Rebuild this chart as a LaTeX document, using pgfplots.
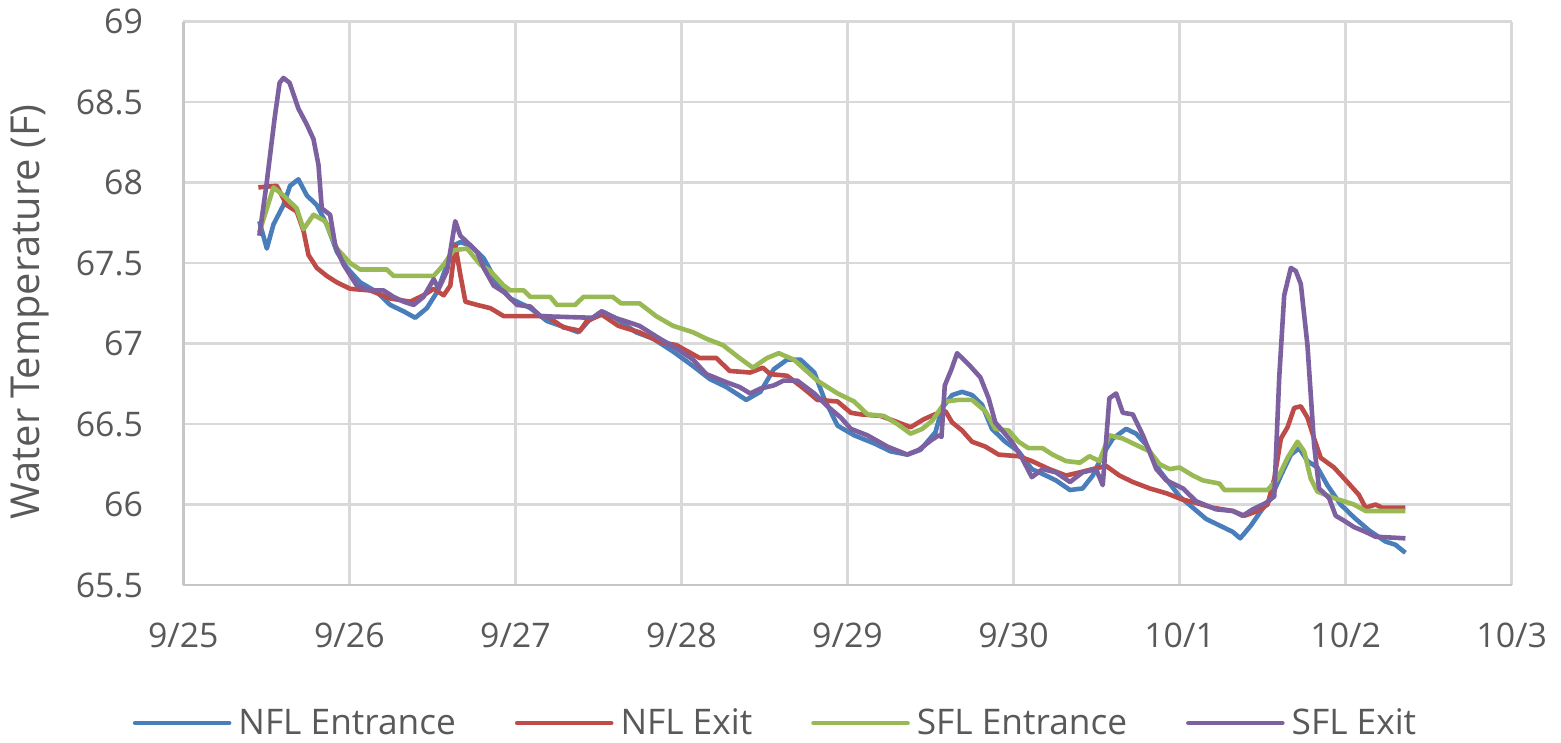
\documentclass[border=0pt]{standalone}
\usepackage{fontspec}
\setmainfont{Open Sans}
\usepackage{pgfplots}
\pgfplotsset{compat=1.18}
\definecolor{cBlue}{HTML}{4A7EBB}
\definecolor{cRed}{HTML}{BE4B48}
\definecolor{cGreen}{HTML}{98B954}
\definecolor{cPurple}{HTML}{7D60A0}
\definecolor{txtgray}{HTML}{595959}
\definecolor{gridgray}{HTML}{D9D9D9}
\definecolor{axgray}{HTML}{C6C6C6}
\begin{document}
\begin{tikzpicture}
\path[use as bounding box] (-91.65bp,-79bp) rectangle (688.85bp,292.5bp);
\begin{axis}[
  at={(0,0)}, anchor=south west,
  scale only axis, width=664.2bp, height=281.7bp,
  xmin=0, xmax=8, ymin=65.5, ymax=69,
  xtick={0,1,2,3,4,5,6,7,8},
  xticklabels={9/25,9/26,9/27,9/28,9/29,9/30,10/1,10/2,10/3},
  ytick={65.5,66,66.5,67,67.5,68,68.5,69},
  /pgf/number format/assume math mode=true,
  grid=major,
  major grid style={gridgray, line width=1.3bp},
  axis x line*=bottom, axis y line*=left,
  axis line style={axgray, line width=1.3bp, -},
  major tick length=0pt,
  tick label style={font=\fontsize{17}{20}\selectfont, text=txtgray},
  yticklabel style={anchor=east, inner sep=0pt, xshift=-20bp},
  xticklabel style={anchor=north, inner sep=0pt, yshift=-19bp},
  ylabel={Water Temperature (F)},
  every axis y label/.style={at={(axis description cs:-0.1154,0.4846)}, rotate=90, anchor=center, font=\fontsize{20}{24}\selectfont, text=txtgray},
  legend columns=4,
  legend style={at={(axis description cs:0.4477,-0.245)}, anchor=center, draw=none, fill=none,
    font=\fontsize{17.7}{20}\selectfont, text=txtgray,
    nodes={inner sep=3.5bp},
    /tikz/every even column/.append style={column sep=26bp}},
  legend cell align=left,
  legend image code/.code={\draw[#1, line cap=round] (0bp,0bp) -- (47bp,0bp);},
  every axis plot/.append style={line width=2.3bp, line join=round, no markers},
]
\addplot[cBlue] coordinates {
(0.458,67.76) (0.503,67.59) (0.543,67.74) (0.603,67.86) (0.643,67.98) (0.693,68.02) (0.744,67.92) (0.804,67.86) (0.864,67.74) (0.925,67.57) (0.985,67.47) (1.065,67.38) (1.166,67.32) (1.246,67.24) (1.327,67.20) (1.397,67.16) (1.467,67.22) (1.528,67.32) (1.588,67.49) (1.628,67.61) (1.668,67.63) (1.729,67.61) (1.809,67.53) (1.889,67.38) (1.970,67.28) (2.09,67.22) (2.19,67.14) (2.30,67.10) (2.38,67.07) (2.44,67.14) (2.52,67.20) (2.60,67.16) (2.727,67.07) (2.83,67.03) (2.95,66.95) (3.07,66.86) (3.17,66.78) (3.27,66.73) (3.39,66.65) (3.475,66.70) (3.556,66.84) (3.636,66.90) (3.717,66.90) (3.80,66.82) (3.859,66.66) (3.94,66.49) (4.04,66.43) (4.16,66.38) (4.26,66.33) (4.36,66.31) (4.44,66.34) (4.53,66.45) (4.57,66.60) (4.63,66.68) (4.69,66.70) (4.75,66.68) (4.81,66.62) (4.87,66.47) (4.95,66.39) (5.03,66.33) (5.11,66.22) (5.195,66.18) (5.255,66.15) (5.34,66.09) (5.416,66.10) (5.477,66.18) (5.537,66.31) (5.598,66.41) (5.678,66.47) (5.738,66.44) (5.80,66.37) (5.88,66.21) (6.0,66.05) (6.08,65.98) (6.16,65.91) (6.24,65.87) (6.32,65.83) (6.365,65.79) (6.43,65.87) (6.49,65.96) (6.55,66.04) (6.61,66.18) (6.67,66.31) (6.72,66.35) (6.77,66.27) (6.83,66.23) (6.89,66.12) (6.97,66.00) (7.05,65.92) (7.14,65.84) (7.24,65.77) (7.30,65.75) (7.36,65.70)
};
\addlegendentry{NFL Entrance}
\addplot[cRed] coordinates {
(0.452,67.97) (0.563,67.98) (0.593,67.92) (0.623,67.86) (0.683,67.82) (0.724,67.70) (0.754,67.55) (0.804,67.47) (0.864,67.42) (0.925,67.38) (1.005,67.34) (1.126,67.33) (1.246,67.28) (1.367,67.26) (1.447,67.30) (1.508,67.34) (1.568,67.30) (1.608,67.36) (1.638,67.61) (1.668,67.43) (1.699,67.26) (1.769,67.24) (1.849,67.22) (1.930,67.17) (2.19,67.17) (2.29,67.10) (2.39,67.08) (2.43,67.14) (2.52,67.18) (2.62,67.11) (2.747,67.07) (2.87,67.01) (2.97,66.99) (3.11,66.91) (3.21,66.91) (3.29,66.83) (3.414,66.82) (3.49,66.85) (3.535,66.81) (3.636,66.80) (3.737,66.72) (3.818,66.65) (3.94,66.64) (4.02,66.57) (4.08,66.56) (4.20,66.55) (4.28,66.52) (4.38,66.48) (4.46,66.53) (4.526,66.56) (4.59,66.58) (4.63,66.51) (4.69,66.46) (4.75,66.39) (4.83,66.36) (4.91,66.31) (5.03,66.30) (5.11,66.27) (5.215,66.22) (5.316,66.18) (5.40,66.20) (5.477,66.22) (5.557,66.24) (5.638,66.18) (5.718,66.14) (5.82,66.10) (5.92,66.07) (6.02,66.03) (6.10,66.01) (6.20,65.98) (6.32,65.96) (6.39,65.93) (6.47,65.96) (6.53,66.00) (6.57,66.16) (6.61,66.41) (6.65,66.48) (6.69,66.60) (6.73,66.61) (6.77,66.54) (6.81,66.41) (6.85,66.29) (6.93,66.23) (7.01,66.14) (7.08,66.06) (7.12,65.98) (7.18,66.00) (7.22,65.98) (7.36,65.98)
};
\addlegendentry{NFL Exit}
\addplot[cGreen] coordinates {
(0.458,67.69) (0.543,67.97) (0.603,67.92) (0.683,67.84) (0.724,67.71) (0.784,67.80) (0.854,67.76) (0.925,67.59) (1.005,67.50) (1.065,67.46) (1.226,67.46) (1.266,67.42) (1.508,67.42) (1.568,67.49) (1.628,67.58) (1.709,67.59) (1.789,67.49) (1.849,67.45) (1.930,67.36) (1.970,67.33) (2.05,67.33) (2.09,67.29) (2.21,67.29) (2.25,67.24) (2.36,67.24) (2.41,67.29) (2.586,67.29) (2.636,67.25) (2.747,67.25) (2.848,67.17) (2.949,67.11) (3.07,67.07) (3.15,67.03) (3.25,66.99) (3.35,66.91) (3.43,66.85) (3.515,66.91) (3.586,66.94) (3.677,66.90) (3.818,66.77) (3.94,66.69) (4.04,66.64) (4.12,66.56) (4.22,66.55) (4.30,66.50) (4.38,66.44) (4.45,66.47) (4.51,66.52) (4.59,66.64) (4.67,66.65) (4.75,66.65) (4.83,66.58) (4.89,66.47) (4.97,66.46) (5.03,66.39) (5.09,66.35) (5.175,66.35) (5.235,66.31) (5.316,66.27) (5.40,66.26) (5.457,66.30) (5.517,66.27) (5.577,66.43) (5.658,66.41) (5.718,66.38) (5.82,66.33) (5.88,66.25) (5.94,66.22) (6.0,66.23) (6.08,66.18) (6.14,66.15) (6.24,66.13) (6.27,66.09) (6.53,66.09) (6.59,66.16) (6.65,66.29) (6.71,66.39) (6.75,66.33) (6.79,66.16) (6.83,66.08) (6.93,66.04) (7.05,66.00) (7.12,65.96) (7.36,65.96)
};
\addlegendentry{SFL Entrance}
\addplot[cPurple] coordinates {
(0.458,67.67) (0.50,67.98) (0.55,68.40) (0.58,68.62) (0.603,68.65) (0.64,68.62) (0.693,68.46) (0.744,68.36) (0.784,68.27) (0.814,68.11) (0.834,67.84) (0.884,67.80) (0.915,67.61) (0.965,67.49) (1.045,67.36) (1.126,67.33) (1.206,67.33) (1.266,67.29) (1.327,67.26) (1.387,67.24) (1.447,67.29) (1.508,67.40) (1.538,67.34) (1.588,67.45) (1.638,67.76) (1.668,67.67) (1.709,67.63) (1.769,67.57) (1.809,67.47) (1.869,67.36) (1.930,67.32) (2.010,67.24) (2.09,67.23) (2.15,67.17) (2.465,67.16) (2.52,67.20) (2.60,67.16) (2.747,67.11) (2.87,67.03) (2.97,66.97) (3.07,66.90) (3.15,66.81) (3.27,66.76) (3.35,66.73) (3.414,66.69) (3.475,66.72) (3.556,66.74) (3.616,66.77) (3.697,66.77) (3.80,66.69) (3.88,66.61) (3.96,66.54) (4.02,66.47) (4.12,66.43) (4.24,66.36) (4.36,66.31) (4.43,66.34) (4.505,66.40) (4.55,66.43) (4.566,66.42) (4.586,66.74) (4.626,66.84) (4.66,66.94) (4.73,66.87) (4.80,66.79) (4.85,66.66) (4.89,66.51) (4.99,66.39) (5.05,66.29) (5.11,66.17) (5.175,66.22) (5.255,66.20) (5.34,66.14) (5.416,66.20) (5.497,66.22) (5.537,66.12) (5.577,66.66) (5.618,66.69) (5.658,66.57) (5.718,66.56) (5.779,66.43) (5.86,66.22) (5.92,66.15) (6.02,66.10) (6.10,66.02) (6.22,65.97) (6.32,65.96) (6.38,65.93) (6.44,65.97) (6.52,66.01) (6.57,66.05) (6.60,66.79) (6.63,67.30) (6.67,67.47) (6.70,67.45) (6.73,67.37) (6.77,66.99) (6.81,66.37) (6.84,66.10) (6.90,66.04) (6.94,65.93) (6.99,65.90) (7.05,65.86) (7.12,65.83) (7.18,65.80) (7.36,65.79)
};
\addlegendentry{SFL Exit}
\end{axis}
\end{tikzpicture}
\end{document}
